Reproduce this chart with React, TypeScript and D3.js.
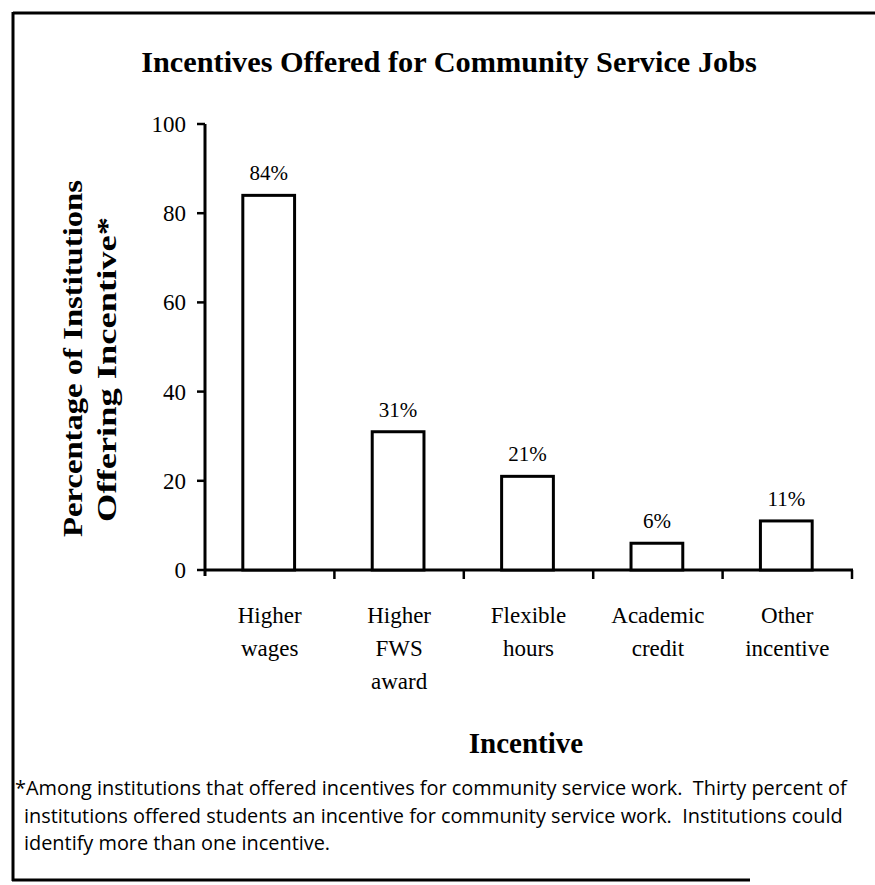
import React from "react";
import * as d3 from "d3";

const categories: string[][] = [
  ["Higher", "wages"],
  ["Higher", "FWS", "award"],
  ["Flexible", "hours"],
  ["Academic", "credit"],
  ["Other", "incentive"],
];
const values: number[] = [84, 31, 21, 6, 11];
const valueLabels: string[] = ["84%", "31%", "21%", "6%", "11%"];
const yTicks: number[] = [0, 20, 40, 60, 80, 100];
const title = "Incentives Offered for Community Service Jobs";
const xTitle = "Incentive";
const yTitleLines = ["Percentage of Institutions", "Offering Incentive*"];
const footnoteLines = [
  "*Among institutions that offered incentives for community service work.  Thirty percent of",
  "institutions offered students an incentive for community service work.  Institutions could",
  "identify more than one incentive.",
];

const SERIF = "'Liberation Serif', 'Times New Roman', serif";
const SANS = "'Open Sans', Lato, sans-serif";

export default function App() {
  const W = 875, H = 885;
  const x0 = 205, x1 = 852, yTop = 124, yBot = 570;
  const keys = categories.map((c, i) => String(i));
  const x = d3.scaleBand<string>().domain(keys).range([x0, x1]).paddingInner(0).paddingOuter(0);
  const y = d3.scaleLinear().domain([0, 100]).range([yBot, yTop]);
  const bw = x.bandwidth() * 0.4;
  const boundaries = keys.map((k) => (x(k) as number) + x.bandwidth());

  return (
    <svg width={W} height={H} style={{ position: "absolute", left: 0, top: 0, background: "#fff" }}>
      {/* frame */}
      <line x1={13} y1={13} x2={875} y2={13} stroke="#000" strokeWidth={3} />
      <line x1={13} y1={12} x2={13} y2={881} stroke="#000" strokeWidth={3} />
      <line x1={12} y1={880} x2={750} y2={880} stroke="#000" strokeWidth={3} />

      <text x={449} y={72} textAnchor="middle" fontFamily={SERIF} fontWeight="bold" fontSize={30.3}>
        {title}
      </text>

      {/* y axis */}
      <line x1={x0} y1={yTop} x2={x0} y2={yBot + 6} stroke="#000" strokeWidth={3} />
      {yTicks.map((t) => (
        <g key={t}>
          <line x1={x0 - 8} x2={x0} y1={y(t)} y2={y(t)} stroke="#000" strokeWidth={2.5} />
          <text x={x0 - 19} y={y(t) + 8} textAnchor="end" fontFamily={SERIF} fontSize={23}>
            {t}
          </text>
        </g>
      ))}

      {/* x axis */}
      <line x1={x0} y1={yBot} x2={x1 + 1} y2={yBot} stroke="#000" strokeWidth={3} />
      {boundaries.map((b, i) => (
        <line key={i} x1={b} x2={b} y1={yBot} y2={yBot + 9} stroke="#000" strokeWidth={2.5} />
      ))}

      {/* bars */}
      {values.map((v, i) => {
        const cx = (x(keys[i]) as number) + x.bandwidth() / 2 - 1;
        return (
          <g key={i}>
            <rect x={cx - bw / 2} y={y(v)} width={bw} height={yBot - y(v)} fill="#fff" stroke="#000" strokeWidth={3} />
            <text x={cx} y={y(v) - 15} textAnchor="middle" fontFamily={SERIF} fontSize={21}>
              {valueLabels[i]}
            </text>
          </g>
        );
      })}

      {/* category labels */}
      {categories.map((lines, i) => {
        const cx = (x(keys[i]) as number) + x.bandwidth() / 2;
        return (
          <text key={i} textAnchor="middle" fontFamily={SERIF} fontSize={23}>
            {lines.map((l, j) => (
              <tspan key={j} x={cx} y={623 + j * 33}>
                {l}
              </tspan>
            ))}
          </text>
        );
      })}

      <text x={526} y={753} textAnchor="middle" fontFamily={SERIF} fontWeight="bold" fontSize={29}>
        {xTitle}
      </text>

      {/* y title */}
      <text transform="translate(82,358.5) rotate(-90)" textAnchor="middle" fontFamily={SERIF} fontWeight="bold" fontSize={27} textLength={357} lengthAdjust="spacingAndGlyphs">
        {yTitleLines[0]}
      </text>
      <text transform="translate(116,369.5) rotate(-90)" textAnchor="middle" fontFamily={SERIF} fontWeight="bold" fontSize={27} textLength={305} lengthAdjust="spacingAndGlyphs">
        {yTitleLines[1]}
      </text>

      {/* footnote */}
      {footnoteLines.map((l, i) => (
        <text key={i} x={i === 0 ? 15 : 24} y={795 + i * 27.5} fontFamily={SANS} fontSize={19.9} style={{ whiteSpace: "pre" }}>
          {l}
        </text>
      ))}
    </svg>
  );
}
